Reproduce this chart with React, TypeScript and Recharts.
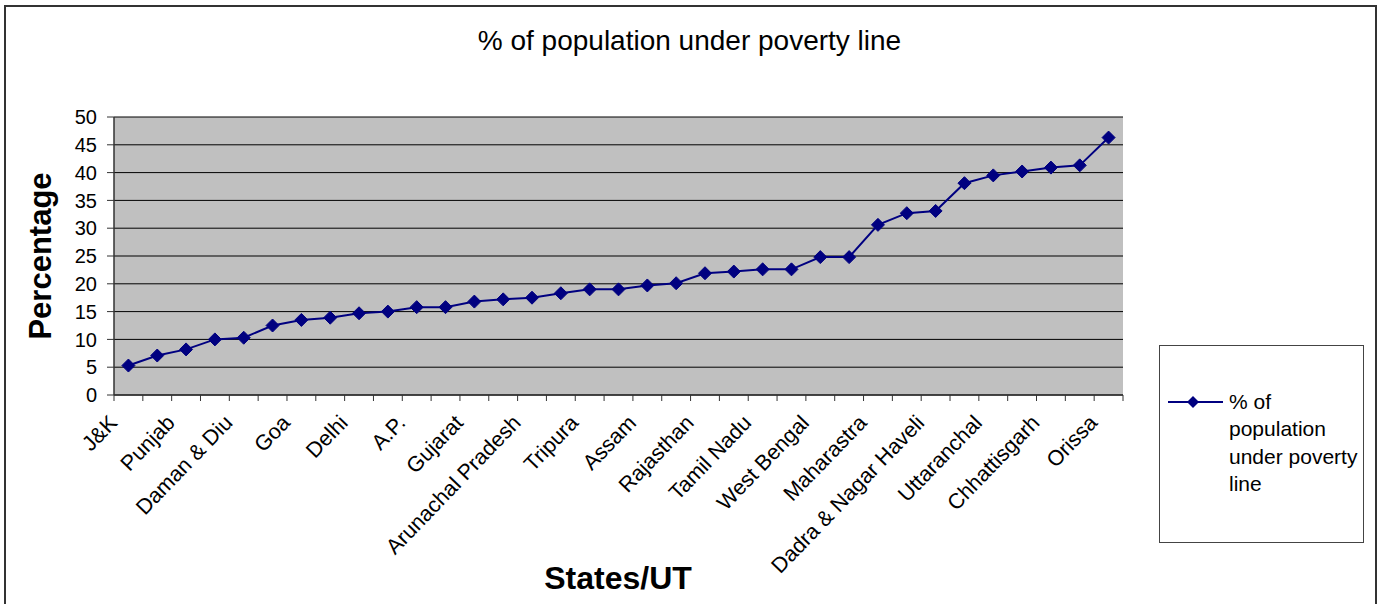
import {
  LineChart,
  Line,
  XAxis,
  YAxis,
  CartesianGrid,
  Legend,
  Label,
} from "recharts";

const STATES = [
  "J&K", "Chandigarh", "Punjab", "Himachal Pradesh", "Daman & Diu",
  "Mizoram", "Goa", "Haryana", "Delhi", "Kerala",
  "A.P.", "Lakshadweep", "Gujarat", "Manipur", "Arunachal Pradesh",
  "Meghalaya", "Tripura", "Nagaland", "Assam", "Sikkim",
  "Rajasthan", "Andaman & Nicobar", "Tamil Nadu", "Pondicherry", "West Bengal",
  "Karnataka", "Maharastra", "Uttar Pradesh", "Dadra & Nagar Haveli", "Madhya Pradesh",
  "Uttaranchal", "Jharkhand", "Chhattisgarh", "Bihar", "Orissa",
];

const POVERTY = [
  5.3, 7.1, 8.2, 10.0, 10.3,
  12.5, 13.5, 13.9, 14.7, 15.0,
  15.8, 15.8, 16.8, 17.2, 17.5,
  18.3, 19.0, 19.0, 19.7, 20.1,
  21.9, 22.2, 22.6, 22.6, 24.8,
  24.8, 30.6, 32.7, 33.1, 38.1,
  39.5, 40.2, 40.9, 41.3, 46.3,
];

const Y_TICKS = [0, 5, 10, 15, 20, 25, 30, 35, 40, 45, 50];

const SERIES_NAME = "% of population under poverty line";
const FONT = "'Liberation Sans', Arial, sans-serif";
const NAVY = "#000080";

const W = 1381;
const H = 604;
const PLOT_W = 1009;
const BAND = PLOT_W / STATES.length;

const data = STATES.map((state, i) => ({ state, pct: POVERTY[i] }));

function Diamond(props: any) {
  const { cx, cy, index } = props;
  if (cx == null || cy == null) return null;
  const r = 6.5;
  return (
    <path
      key={`d-${index}`}
      d={`M${cx},${cy - r} L${cx + r},${cy} L${cx},${cy + r} L${cx - r},${cy} Z`}
      fill={NAVY}
      stroke={NAVY}
    />
  );
}

// category ticks sit between the points, labels only on every other state
function StateTick(props: any) {
  const { x, y, payload } = props;
  const i = payload.index ?? props.index;
  const half = BAND / 2;
  const ax = x - 10;
  const ay = y + 29;
  return (
    <g>
      <line x1={x - half} x2={x - half} y1={y} y2={y + 6} stroke="#333" />
      {i === STATES.length - 1 && (
        <line x1={x + half} x2={x + half} y1={y} y2={y + 6} stroke="#333" />
      )}
      {i % 2 === 0 && (
        <text
          x={ax}
          y={ay}
          textAnchor="end"
          fontSize={21.5}
          fontFamily={FONT}
          fill="#000"
          transform={`rotate(-46, ${ax}, ${ay})`}
        >
          {payload.value}
        </text>
      )}
    </g>
  );
}

function LegendBox(props: any) {
  const item = props.payload?.[0];
  return (
    <div
      style={{
        width: 205,
        height: 198,
        boxSizing: "border-box",
        border: "1px solid #444",
        background: "#fff",
        position: "relative",
        fontFamily: FONT,
        fontSize: 21,
        color: "#000",
      }}
    >
      <svg width={60} height={20} style={{ position: "absolute", left: 7, top: 46 }}>
        <line x1={1} x2={56} y1={10} y2={10} stroke={NAVY} strokeWidth={2} />
        <path d="M26,4 L32,10 L26,16 L20,10 Z" fill={NAVY} />
      </svg>
      <div
        style={{
          position: "absolute",
          left: 69,
          top: 42,
          width: 133,
          lineHeight: "27.3px",
          textAlign: "left",
        }}
      >
        {item?.value ?? SERIES_NAME}
      </div>
    </div>
  );
}

export default function App() {
  return (
    <div
      style={{
        position: "absolute",
        left: 0,
        top: 0,
        width: W,
        height: H,
        overflow: "hidden",
        background: "#fff",
      }}
    >
      <div
        style={{
          position: "absolute",
          left: 4,
          top: 5,
          width: 1373,
          height: 640,
          boxSizing: "border-box",
          border: "2px solid #333",
        }}
      />
      <div
        style={{
          position: "absolute",
          left: 0,
          top: 27,
          width: W - 2,
          textAlign: "center",
          fontFamily: FONT,
          fontSize: 28,
          lineHeight: "28px",
          color: "#000",
        }}
      >
        {SERIES_NAME}
      </div>
      <div style={{ position: "absolute", left: 0, top: 0 }}>
        <LineChart
          width={W}
          height={H}
          data={data}
          margin={{ top: 117, right: 53, bottom: 0, left: 0 }}
        >
          <CartesianGrid vertical={false} stroke="#000" fill="#C0C0C0" />
          <XAxis
            dataKey="state"
            interval={0}
            height={209}
            padding={{ left: BAND / 2, right: BAND / 2 }}
            tickSize={0}
            tickMargin={0}
            tickLine={false}
            axisLine={{ stroke: "#333", strokeWidth: 1.5 }}
            tick={<StateTick />}
          >
            <Label
              content={() => (
                <text
                  x={618}
                  y={589}
                  textAnchor="middle"
                  fontSize={32}
                  fontWeight="bold"
                  fontFamily={FONT}
                  fill="#000"
                >
                  States/UT
                </text>
              )}
            />
          </XAxis>
          <XAxis
            xAxisId="top"
            dataKey="state"
            orientation="top"
            height={0}
            tick={false}
            tickLine={false}
            axisLine={{ stroke: "#808080", strokeWidth: 2 }}
          />
          <YAxis
            width={114}
            domain={[0, 50]}
            ticks={Y_TICKS}
            interval={0}
            tickSize={7}
            tickMargin={10}
            tick={{ fill: "#000", fontSize: 20, fontFamily: FONT }}
            tickLine={{ stroke: "#333" }}
            axisLine={{ stroke: "#333", strokeWidth: 1.5 }}
          >
            <Label
              content={() => (
                <text
                  x={51}
                  y={256}
                  textAnchor="middle"
                  fontSize={31}
                  fontWeight="bold"
                  fontFamily={FONT}
                  fill="#000"
                  transform="rotate(-90, 51, 256)"
                >
                  Percentage
                </text>
              )}
            />
          </YAxis>
          <YAxis
            yAxisId="right"
            orientation="right"
            width={0}
            domain={[0, 50]}
            tick={false}
            tickLine={false}
            axisLine={{ stroke: "#808080", strokeWidth: 2 }}
          />
          <Legend
            layout="vertical"
            align="right"
            verticalAlign="middle"
            content={<LegendBox />}
            wrapperStyle={{ left: 1159, top: 345, width: 205, height: 198 }}
          />
          <Line
            type="linear"
            dataKey="pct"
            name={SERIES_NAME}
            stroke={NAVY}
            strokeWidth={2}
            dot={<Diamond />}
            activeDot={false}
            isAnimationActive={false}
          />
        </LineChart>
      </div>
    </div>
  );
}
